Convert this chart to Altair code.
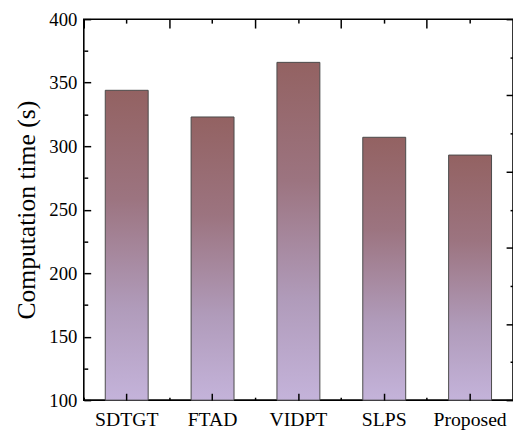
import altair as alt
import pandas as pd

methods = ["SDTGT", "FTAD", "VIDPT", "SLPS", "Proposed"]
times = [344, 323, 366, 307, 293]
baseline = [100, 100, 100, 100, 100]

y_domain = [100, 400]
y_major = [100, 150, 200, 250, 300, 350, 400]
y_minor = [125, 175, 225, 275, 325, 375]
r_major = [100, 160, 220, 280, 340, 400]
r_minor = [130, 190, 250, 310, 370]

df = pd.DataFrame({"method": methods, "time": times, "base": baseline})

FONT = "Liberation Serif"
xscale = alt.Scale(paddingInner=0, paddingOuter=0)
yscale = alt.Scale(domain=y_domain, nice=False, zero=False)

grad = alt.Gradient(
    gradient="linear",
    stops=[
        alt.GradientStop(color="#936262", offset=0),
        alt.GradientStop(color="#9c7480", offset=0.35),
        alt.GradientStop(color="#b09bba", offset=0.7),
        alt.GradientStop(color="#c4b3da", offset=1),
    ],
    x1=0, x2=0, y1=0, y2=1,
)


def tick_axis(**kw):
    base = dict(labels=False, domain=False, grid=False, title=None,
                tickColor="black", tickWidth=1.5, zindex=2)
    base.update(kw)
    return alt.Axis(**base)


def layer(xaxis, yaxis, visible=False):
    if visible:
        mk = alt.Chart(df).mark_bar(
            width=alt.RelativeBandSize(0.5), color=grad,
            stroke="#4a4a4a", strokeWidth=1,
        )
    else:
        mk = alt.Chart(df).mark_bar(width=alt.RelativeBandSize(0.5), opacity=0)
    return mk.encode(
        x=alt.X("method:N", sort=methods, scale=xscale, axis=xaxis),
        y=alt.Y("time:Q", scale=yscale, axis=yaxis),
        y2="base:Q",
    )


l1 = layer(
    alt.Axis(orient="bottom", ticks=False, domain=False, grid=False, title=None,
             labelAngle=0, labelFont=FONT, labelFontSize=20, labelColor="black",
             labelPadding=10),
    alt.Axis(orient="left", ticks=False, domain=False, grid=False,
             values=y_major, labelFont=FONT, labelFontSize=19, labelColor="black",
             labelPadding=7, title="Computation time (s)", titleFont=FONT,
             titleFontSize=26, titleFontWeight="normal", titleColor="black",
             titlePadding=10),
    visible=True,
)
l2 = layer(
    tick_axis(orient="bottom", offset=-7, tickSize=7),
    tick_axis(orient="left", offset=-7, tickSize=7, values=y_major),
)
l3 = layer(
    tick_axis(orient="bottom", offset=-3, tickSize=3, bandPosition=0),
    tick_axis(orient="left", offset=-4, tickSize=4, values=y_minor),
)
l4 = layer(
    tick_axis(orient="top", offset=-4, tickSize=4),
    tick_axis(orient="right", offset=-7, tickSize=7, values=r_major),
)
l5 = layer(
    tick_axis(orient="top", offset=-9, tickSize=9, bandPosition=0),
    tick_axis(orient="right", offset=-3, tickSize=3, values=r_minor),
)

chart = (
    alt.layer(l1, l2, l3, l4, l5)
    .resolve_axis(x="independent", y="independent")
    .properties(
        width=436, height=387,
        autosize=alt.AutoSizeParams(type="none"),
        padding={"left": 77, "top": 8, "right": 0, "bottom": 30},
    )
    .configure_view(stroke="black", strokeWidth=1.6)
)

chart.save("out.html", embed_options={"renderer": "svg", "actions": False})
